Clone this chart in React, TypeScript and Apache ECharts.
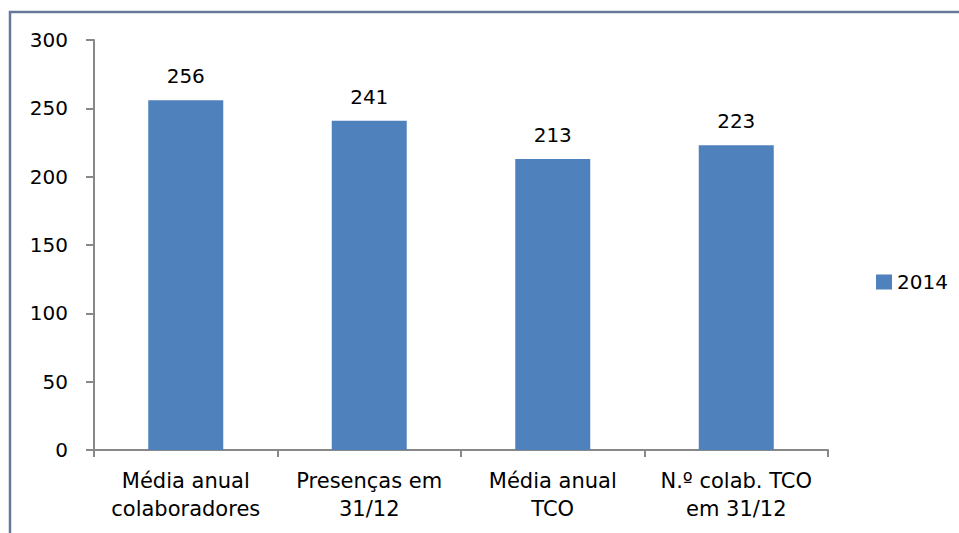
import React, { useEffect, useRef } from "react";
import * as echarts from "echarts";

const categories = [
  "Média anual\ncolaboradores",
  "Presenças em\n31/12",
  "Média anual\nTCO",
  "N.º colab. TCO\nem 31/12",
];
const seriesName = "2014";
const values2014 = [256, 241, 213, 223];
const yTicks = { min: 0, max: 300, interval: 50 };

export default function App() {
  const ref = useRef<HTMLDivElement>(null);
  useEffect(() => {
    if (!ref.current) return;
    const chart = echarts.init(ref.current, null, { renderer: "svg" });
    const font = "DejaVu Sans";
    chart.setOption({
      animation: false,
      backgroundColor: "#ffffff",
      textStyle: { fontFamily: font },
      graphic: [
        {
          type: "rect",
          shape: { x: 10, y: 12, width: 1000, height: 600 },
          style: { fill: "none", stroke: "#66799a", lineWidth: 2.5 },
          silent: true,
        },
      ],
      grid: { left: 94, right: 131, top: 40, bottom: 83 },
      legend: {
        data: [seriesName],
        left: 871,
        top: 267,
        itemWidth: 16,
        itemHeight: 15,
        itemGap: 6,
        textStyle: { fontFamily: font, fontSize: 20, color: "#000" },
        icon: "rect",
      },
      xAxis: {
        type: "category",
        data: categories,
        axisLine: { lineStyle: { color: "#888888", width: 2 } },
        axisTick: { show: true, length: 7, lineStyle: { color: "#888888", width: 2 } },
        axisLabel: {
          interval: 0,
          margin: 17,
          fontFamily: font,
          fontSize: 21,
          lineHeight: 28,
          color: "#000",
        },
        splitLine: { show: false },
      },
      yAxis: {
        type: "value",
        min: yTicks.min,
        max: yTicks.max,
        interval: yTicks.interval,
        axisLine: { show: true, lineStyle: { color: "#888888", width: 2 } },
        axisTick: { show: true, length: 8, lineStyle: { color: "#888888", width: 2 } },
        axisLabel: { margin: 26, fontFamily: font, fontSize: 20, color: "#000" },
        splitLine: { show: false },
      },
      series: [
        {
          name: seriesName,
          type: "bar",
          data: values2014,
          barWidth: 75,
          itemStyle: { color: "#4f81bd" },
          label: {
            show: true,
            position: "top",
            distance: 14,
            fontFamily: font,
            fontSize: 20,
            color: "#000",
          },
        },
      ],
    });
    return () => chart.dispose();
  }, []);
  return (
    <div
      ref={ref}
      style={{ position: "absolute", left: 0, top: 0, width: 959, height: 533 }}
    />
  );
}
